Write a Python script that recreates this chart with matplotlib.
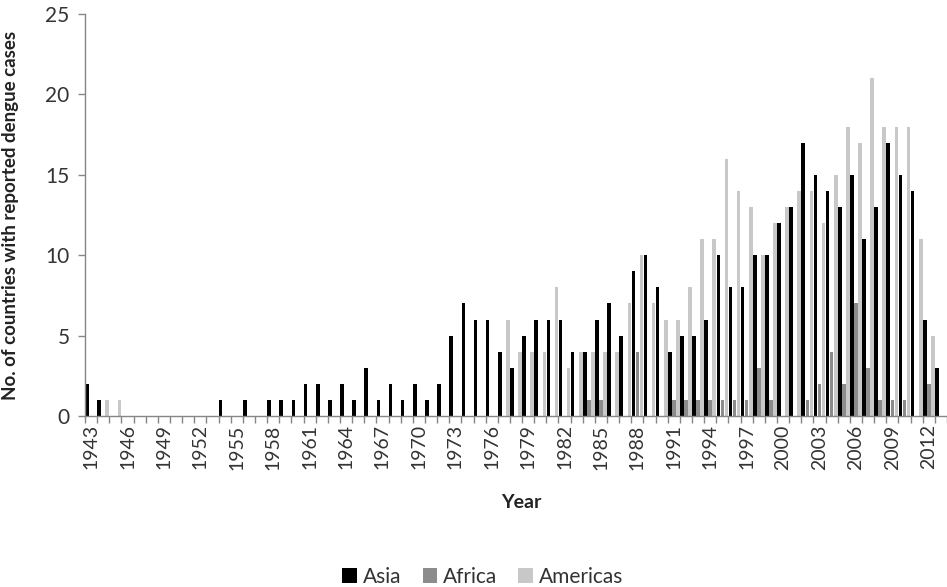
import numpy as np
import matplotlib.pyplot as plt
from matplotlib.patches import Patch

plt.rcParams['font.family'] = ['Lato', 'DejaVu Sans']

# years 1943..2013 (2013 is cut off at the right edge of the original)
years = list(range(1943, 2014))

asia = [2, 1, 0, 0, 0, 0, 0, 0, 0, 0, 0, 1, 0, 1, 0, 1, 1, 1, 2, 2,
        1, 2, 1, 3, 1, 2, 1, 2, 1, 2, 5, 7, 6, 6, 4, 3, 5, 6, 6, 6,
        4, 4, 6, 7, 5, 9, 10, 8, 4, 5, 5, 6, 10, 8, 8, 10, 10, 12, 13, 17,
        15, 14, 13, 15, 11, 13, 17, 15, 14, 6, 3]
africa = [0, 0, 0, 0, 0, 0, 0, 0, 0, 0, 0, 0, 0, 0, 0, 0, 0, 0, 0, 0,
          0, 0, 0, 0, 0, 0, 0, 0, 0, 0, 0, 0, 0, 0, 0, 0, 0, 0, 0, 0,
          0, 1, 1, 0, 0, 4, 0, 0, 1, 1, 1, 1, 1, 1, 1, 3, 1, 0, 0, 1,
          2, 4, 2, 7, 3, 1, 1, 1, 0, 2, 0]
americas = [0, 1, 1, 0, 0, 0, 0, 0, 0, 0, 0, 0, 0, 0, 0, 0, 0, 0, 0, 0,
            0, 0, 0, 0, 0, 0, 0, 0, 0, 0, 0, 0, 0, 0, 6, 4, 4, 4, 8, 3,
            4, 4, 4, 4, 7, 10, 7, 6, 6, 8, 11, 11, 16, 14, 13, 10, 12, 13, 14, 14,
            12, 15, 18, 17, 21, 18, 18, 18, 11, 5, 0]

series = [("Asia", asia, "#000000"),
          ("Africa", africa, "#8c8c8c"),
          ("Americas", americas, "#c8c8c8")]

fig = plt.figure(figsize=(9.47, 5.87), dpi=100)
ax = fig.add_axes([85 / 947, 171 / 587, 862 / 947, 402 / 587])

x = np.arange(len(years))
w = 0.30
offsets = [-0.335, 0.0, 0.335]
for (name, vals, col), off in zip(series, offsets):
    ax.bar(x + off, vals, width=w, color=col, label=name, zorder=2)

ax.set_xlim(-0.5, -0.5 + 862 / 12.23)
ax.set_ylim(0, 25)

axis_col = "#868686"
for s in ["top", "right"]:
    ax.spines[s].set_visible(False)
for s in ["left", "bottom"]:
    ax.spines[s].set_color(axis_col)
    ax.spines[s].set_linewidth(1.0)

# tick marks between categories, labels every third year
ax.set_xticks(np.arange(len(years) + 1) - 0.5)
ax.set_xticklabels([])
lab_pos = [i for i in range(len(years)) if (years[i] - 1943) % 3 == 0]
ax.set_xticks(lab_pos, [str(years[i]) for i in lab_pos], minor=True)
ax.tick_params(axis='x', which='major', length=5, color=axis_col, width=1)
ax.tick_params(axis='x', which='minor', length=0, pad=6, labelrotation=90,
               labelsize=14, labelcolor="#333333")

ax.set_yticks(range(0, 26, 5))
ax.tick_params(axis='y', length=5, color=axis_col, width=1, pad=6,
               labelsize=15, labelcolor="#333333")

ax.set_ylabel("No. of countries with reported dengue cases", fontsize=13.5,
              fontweight='bold', color="#222222")
ax.yaxis.set_label_coords(-0.076, 0.5)

fig.text(521 / 947, 1 - 503 / 587, "Year", fontsize=14, fontweight='bold',
         color="#222222", ha='center', va='center')

handles = [Patch(facecolor=c, edgecolor='none', label=n) for n, v, c in series]
fig.legend(handles=handles, loc='center', bbox_to_anchor=(483 / 947, 1 - 577 / 587),
           ncol=3, frameon=False, fontsize=15, handlelength=0.7,
           handleheight=0.7, handletextpad=0.3, columnspacing=1.0,
           labelcolor="#333333")

fig.savefig("out.png", dpi=100)
